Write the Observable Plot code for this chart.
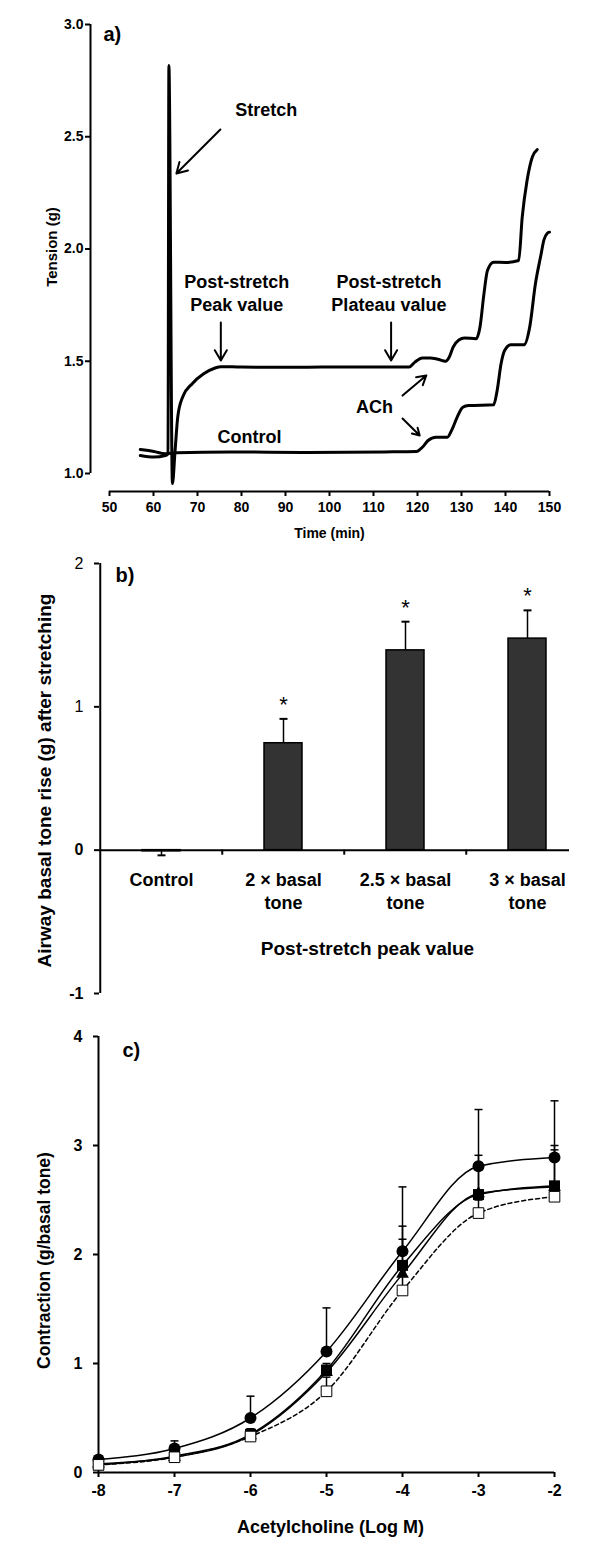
<!DOCTYPE html>
<html><head><meta charset="utf-8">
<script src="https://cdn.jsdelivr.net/npm/d3@7"></script>
<script src="https://cdn.jsdelivr.net/npm/@observablehq/plot@0.6"></script>
<style>
html,body{margin:0;padding:0;background:#fff;}
#chart{width:600px;}
#chart svg{display:block;}
</style></head><body><div id="chart"></div>
<script>
// ---------------- Panel a: tension traces ----------------
const stretchTime = [57, 60.1, 62.7, 63.3, 63.5, 64.3, 64.9, 65.5, 66.6, 68.8, 71.4, 74.0, 75.3, 80, 90, 100, 110, 118.1, 119.4, 121.1, 122.9, 124.6, 126.4, 127.2, 128.1, 129.4, 130.7, 133.3, 134.2, 135.1, 135.9, 137.3, 140, 143.0, 143.8, 144.9, 146.1, 147.2];
const stretchTension = [1.08, 1.073, 1.080, 1.088, 2.817, 0.955, 1.10, 1.25, 1.34, 1.40, 1.444, 1.47, 1.476, 1.474, 1.473, 1.474, 1.474, 1.474, 1.496, 1.515, 1.515, 1.509, 1.50, 1.518, 1.563, 1.595, 1.604, 1.60, 1.652, 1.80, 1.904, 1.941, 1.94, 1.949, 2.142, 2.305, 2.41, 2.443];
const controlTime = [57, 60.1, 62.7, 65.3, 77.5, 95, 112.4, 119.8, 121.1, 122.4, 124.2, 126.8, 127.7, 129, 130.3, 131.6, 137.3, 138.1, 139, 139.8, 141.2, 144.2, 145.5, 146.8, 148.1, 148.7, 149.5, 150];
const controlTension = [1.107, 1.098, 1.088, 1.092, 1.096, 1.094, 1.096, 1.098, 1.117, 1.147, 1.162, 1.162, 1.19, 1.25, 1.295, 1.303, 1.306, 1.37, 1.49, 1.548, 1.573, 1.573, 1.652, 1.845, 1.978, 2.038, 2.07, 2.075];
const tensionTicks = [1.0, 1.5, 2.0, 2.5, 3.0];
const timeTicks = [50, 60, 70, 80, 90, 100, 110, 120, 130, 140, 150];
const noteText = ["Stretch", "Post-stretch\nPeak value", "Post-stretch\nPlateau value", "ACh", "Control"];
const noteTime = [85.6, 78.9, 113.5, 110.2, 81.8];
const noteTension = [2.626, 1.808, 1.808, 1.303, 1.169];
const arrowTime1 = [75.2, 75.3, 114.0, 116.6, 116.6];
const arrowTension1 = [2.532, 1.673, 1.673, 1.347, 1.245];
const arrowTime2 = [65.2, 75.3, 114.0, 122.0, 120.5];
const arrowTension2 = [2.336, 1.503, 1.503, 1.437, 1.169];

// ---------------- Panel b: basal tone rise ----------------
const groups = ["Control", "2 × basal tone", "2.5 × basal tone", "3 × basal tone"];
const groupLabels = ["Control", "2 × basal\ntone", "2.5 × basal\ntone", "3 × basal\ntone"];
const riseMean = [-0.008, 0.746, 1.394, 1.476];
const riseSem = [0.028, 0.17, 0.20, 0.197];
const riseSignificant = [false, true, true, true];
const riseTicks = [-1, 0, 1, 2];

// ---------------- Panel c: ACh concentration-response ----------------
const logDose = [-8, -7, -6, -5, -4, -3, -2];
const circleMean = [0.12, 0.22, 0.50, 1.11, 2.03, 2.81, 2.89];
const circleSem = [0.03, 0.07, 0.20, 0.40, 0.59, 0.52, 0.52];
const squareMean = [0.07, 0.15, 0.35, 0.94, 1.90, 2.55, 2.63];
const squareSem = [0.03, 0.03, 0.05, 0.06, 0.36, 0.36, 0.37];
const triangleMean = [0.08, 0.14, 0.34, 0.92, 1.82, 2.56, 2.62];
const triangleSem = [0.02, 0.05, 0.06, 0.06, 0.32, 0.22, 0.34];
const openMean = [0.07, 0.14, 0.33, 0.745, 1.67, 2.38, 2.53];
const openSem = [0.02, 0.03, 0.04, 0.13, 0.13, 0.12, 0.07];
const contractionTicks = [0, 1, 2, 3, 4];

const FONT = "'Liberation Sans', Arial, Helvetica, sans-serif";
const capSymbol = {draw(ctx, size) { const r = Math.sqrt(size / Math.PI); ctx.moveTo(-r, 0); ctx.lineTo(r, 0); }};
const root = document.getElementById("chart");

// ---- Panel a ----
const traces = [
  ...stretchTime.map((t, i) => ({t, v: stretchTension[i], s: "stretch"})),
  ...controlTime.map((t, i) => ({t, v: controlTension[i], s: "control"}))
];
const notes = noteText.map((text, i) => ({text, t: noteTime[i], v: noteTension[i]}));
const arrows = arrowTime1.map((t1, i) => ({t1, v1: arrowTension1[i], t2: arrowTime2[i], v2: arrowTension2[i]}));

const plotA = Plot.plot({
  width: 600, height: 550,
  marginLeft: 109, marginRight: 51, marginTop: 24, marginBottom: 77,
  style: {fontFamily: FONT, background: "white", color: "black"},
  x: {domain: [50, 150], axis: null},
  y: {domain: [1, 3], axis: null},
  marks: [
    Plot.ruleX([50], {y1: 1, y2: 3, dx: -19, strokeWidth: 2}),
    Plot.axisY(tensionTicks, {anchor: "left", dx: -19, tickSize: 5, tickPadding: 2, strokeWidth: 2,
      tickFormat: d => d.toFixed(1), fontSize: 14, fontWeight: "bold", label: null}),
    Plot.ruleY([1], {dy: 18, strokeWidth: 2}),
    Plot.axisX(timeTicks, {anchor: "bottom", dy: 18, tickSize: 5, tickPadding: 6, strokeWidth: 2,
      tickFormat: d => String(d), fontSize: 14, fontWeight: "bold", label: null}),
    Plot.line(traces, {x: "t", y: "v", z: "s", curve: "monotone-x", strokeWidth: 3, strokeLinejoin: "round"}),
    Plot.arrow(arrows, {x1: "t1", y1: "v1", x2: "t2", y2: "v2", strokeWidth: 2, headLength: 9}),
    Plot.text(notes, {x: "t", y: "v", text: "text", fontSize: 18, fontWeight: "bold", lineHeight: 1.28, lineAnchor: "middle"}),
    Plot.text(["a)"], {frameAnchor: "top-left", dx: -6, dy: 10, textAnchor: "start", lineAnchor: "middle", fontSize: 20, fontWeight: "bold"}),
    Plot.text(["Time (min)"], {frameAnchor: "bottom", dy: 60, textAnchor: "middle", lineAnchor: "middle", fontSize: 14, fontWeight: "bold"}),
    Plot.text(["Tension (g)"], {frameAnchor: "left", dx: -57, dy: -2, textAnchor: "middle", lineAnchor: "middle", rotate: -90, fontSize: 15, fontWeight: "bold"})
  ]
});
root.appendChild(plotA);

// ---- Panel b ----
const bars = groups.map((g, i) => ({g, label: groupLabels[i], m: riseMean[i], s: riseSem[i], sig: riseSignificant[i]}));
const barTop = d => d.m + Math.sign(d.m) * d.s;
const plotB = Plot.plot({
  width: 600, height: 460,
  marginLeft: 99, marginRight: 31, marginTop: 13, marginBottom: 17,
  style: {fontFamily: FONT, background: "white", color: "black"},
  x: {type: "band", domain: groups, range: [99, 589], padding: 0, axis: null},
  y: {domain: [-1, 2], axis: null},
  marks: [
    Plot.ruleX(bars, {x: "g", y1: "m", y2: barTop, strokeWidth: 1.5}),
    Plot.dot(bars, {x: "g", y: barTop, symbol: capSymbol, r: 4, fill: "none", stroke: "black", strokeWidth: 2}),
    Plot.barY(bars, {x: "g", y: "m", fill: "#333", stroke: "black", strokeWidth: 1.5, insetLeft: 42, insetRight: 42}),
    Plot.ruleX([groups[0]], {y1: -1, y2: 2, dx: -61.25, strokeWidth: 2}),
    Plot.axisY([1, 2], {anchor: "left", tickSize: 5, tickPadding: 11, strokeWidth: 2, tickFormat: d => String(d), fontSize: 16, fontWeight: "normal", label: null}),
    Plot.axisY([-1, 0], {anchor: "left", tickSize: 5, tickPadding: 11, strokeWidth: 2, tickFormat: d => String(d), fontSize: 16, fontWeight: "bold", label: null}),
    Plot.ruleY([0], {strokeWidth: 2}),
    Plot.ruleX(groups.slice(1), {y1: 0, y2: -0.035, dx: -61.25, strokeWidth: 2}),
    Plot.text(bars, {x: "g", y: 0, text: "label", dy: 19, lineAnchor: "top", fontSize: 18, fontWeight: "bold", lineHeight: 1.28}),
    Plot.text(bars.filter(d => d.sig), {x: "g", y: barTop, text: () => "*", dy: -14, lineAnchor: "middle", fontSize: 22}),
    Plot.text(["Post-stretch peak value"], {frameAnchor: "middle", dx: 33, dy: 170, textAnchor: "middle", fontSize: 19, fontWeight: "bold"}),
    Plot.text(["Airway basal tone rise (g) after stretching"], {frameAnchor: "left", dx: -55, dy: 2, textAnchor: "middle", lineAnchor: "middle", rotate: -90, fontSize: 19, fontWeight: "bold"}),
    Plot.text(["b)"], {frameAnchor: "top-left", dx: 16, dy: 12, textAnchor: "start", lineAnchor: "middle", fontSize: 20, fontWeight: "bold"})
  ]
});
root.appendChild(plotB);

// ---- Panel c ----
const seriesC = [
  {name: "circle", mean: circleMean, sem: circleSem},
  {name: "square", mean: squareMean, sem: squareSem},
  {name: "triangle", mean: triangleMean, sem: triangleSem},
  {name: "open", mean: openMean, sem: openSem}
];
const pts = seriesC.flatMap(s => logDose.map((x, i) => ({series: s.name, x, y: s.mean[i], top: s.mean[i] + s.sem[i]})));
const of = name => pts.filter(d => d.series === name);
const plotC = Plot.plot({
  width: 600, height: 552,
  marginLeft: 98, marginRight: 46, marginTop: 26, marginBottom: 90,
  style: {fontFamily: FONT, background: "white", color: "black"},
  x: {domain: [-8, -2], axis: null},
  y: {domain: [0, 4], axis: null},
  marks: [
    Plot.line(pts.filter(d => d.series !== "open"), {x: "x", y: "y", z: "series", curve: "monotone-x", strokeWidth: 1.5}),
    Plot.line(of("open"), {x: "x", y: "y", curve: "monotone-x", strokeWidth: 1.5, strokeDasharray: "4,3"}),
    Plot.ruleX(pts, {x: "x", y1: "y", y2: "top", strokeWidth: 1.5}),
    Plot.dot(pts, {x: "x", y: "top", symbol: capSymbol, r: 4, fill: "none", stroke: "black", strokeWidth: 1.5}),
    Plot.ruleX([-8], {y1: 0, y2: 4, strokeWidth: 2}),
    Plot.ruleY([0], {x1: -8, x2: -2, strokeWidth: 2}),
    Plot.axisY(contractionTicks, {anchor: "left", tickSize: 5, tickPadding: 11, strokeWidth: 2, tickFormat: d => String(d), fontSize: 16, fontWeight: "bold", label: null}),
    Plot.axisX(logDose, {anchor: "bottom", tickSize: 5, tickPadding: 7, strokeWidth: 2, tickFormat: d => String(d), fontSize: 16, fontWeight: "bold", label: null}),
    Plot.dot(of("triangle"), {x: "x", y: "y", symbol: "triangle", r: 3.8, fill: "black", stroke: "black"}),
    Plot.dot(of("circle"), {x: "x", y: "y", symbol: "circle", r: 6, fill: "black"}),
    Plot.dot(of("square"), {x: "x", y: "y", symbol: "square", r: 6.2, fill: "black"}),
    Plot.dot(of("open"), {x: "x", y: "y", symbol: "square", r: 6, fill: "white", stroke: "black", strokeWidth: 1}),
    Plot.text(["c)"], {frameAnchor: "top-left", dx: 24, dy: 14, textAnchor: "start", lineAnchor: "middle", fontSize: 20, fontWeight: "bold"}),
    Plot.text(["Acetylcholine (Log M)"], {frameAnchor: "bottom", dx: 4, dy: 55, textAnchor: "middle", lineAnchor: "middle", fontSize: 18, fontWeight: "bold"}),
    Plot.text(["Contraction (g/basal tone)"], {frameAnchor: "left", dx: -54, dy: 6, textAnchor: "middle", lineAnchor: "middle", rotate: -90, fontSize: 17.5, fontWeight: "bold"})
  ]
});
root.appendChild(plotC);
</script>
</body></html>
